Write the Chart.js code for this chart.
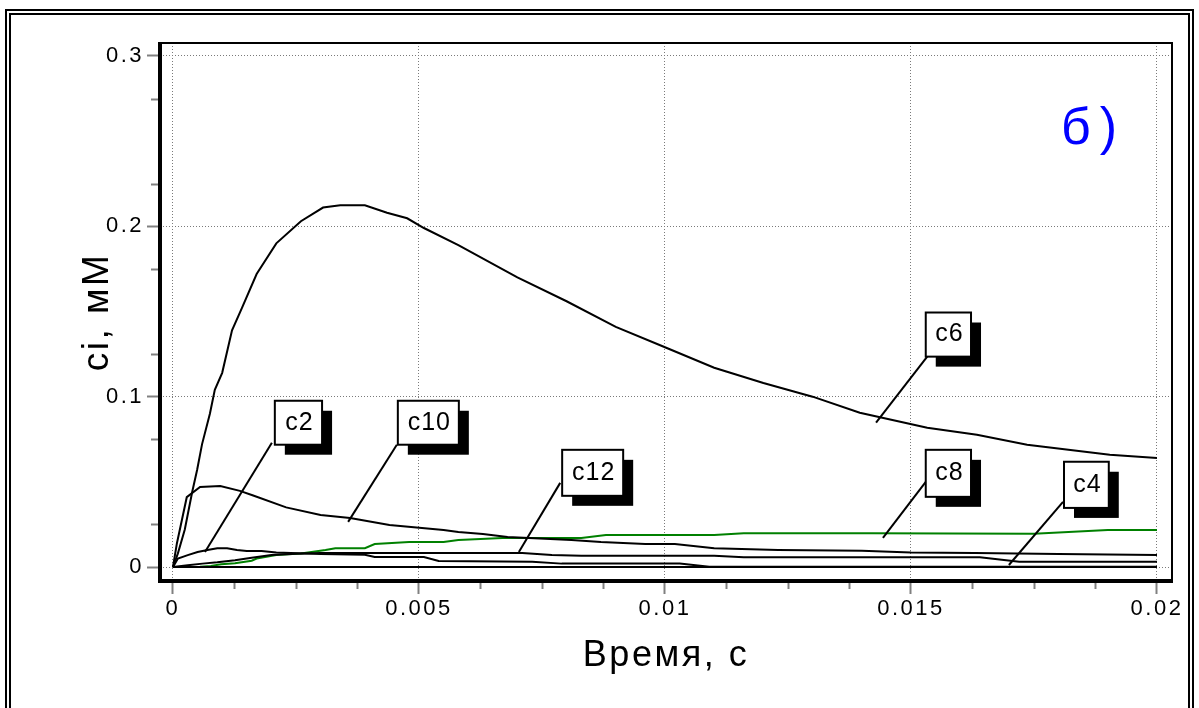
<!DOCTYPE html>
<html lang="ru">
<head>
<meta charset="utf-8">
<title>ci, мМ</title>
<script src="https://cdn.jsdelivr.net/npm/chart.js@4.4.1/dist/chart.umd.min.js"></script>
<style>
html,body{margin:0;padding:0;background:#ffffff;overflow:hidden;}
#box{position:relative;width:1199px;height:708px;}
canvas{display:block;}
</style>
</head>
<body>
<div id="box"><canvas id="chart" width="1199" height="708"></canvas></div>
<script>
// ---------- data (time in s, concentration in mM) ----------
const c6Time = [0,0.0001,0.00024,0.00039,0.00049,0.00059,0.00075,0.00085,0.001,0.0012,0.0014,0.0017,0.0021,0.0026,0.00305,0.0034,0.0039,0.00435,0.00476,0.0051,0.0058,0.007,0.008,0.009,0.01,0.011,0.012,0.013,0.01396,0.01533,0.01634,0.01736,0.01904,0.02];
const c6Conc = [0,0.008,0.022,0.044,0.057,0.072,0.09,0.104,0.114,0.139,0.152,0.172,0.19,0.203,0.211,0.2124,0.2124,0.208,0.2047,0.199,0.189,0.17,0.156,0.141,0.129,0.117,0.108,0.1,0.0906,0.0818,0.0776,0.0718,0.0659,0.064];

const c10Time = [0,0.00008,0.00028,0.00055,0.00096,0.00136,0.00163,0.0023,0.003,0.0036,0.0044,0.0055,0.0058,0.0063,0.0068,0.0081,0.0087,0.0096,0.0102,0.011,0.0123,0.014,0.015,0.0163,0.018,0.02];
const c10Conc = [0,0.014,0.041,0.047,0.0476,0.0447,0.042,0.035,0.0306,0.0288,0.0247,0.0218,0.0206,0.0194,0.0176,0.0159,0.0147,0.0135,0.0135,0.011,0.0100,0.0096,0.0086,0.0082,0.0076,0.007];

const c8Time = [0,0.0003,0.00055,0.00077,0.00098,0.00126,0.0016,0.0017,0.0021,0.0026,0.0031,0.0033,0.0039,0.0041,0.0048,0.0055,0.0058,0.0067,0.0083,0.0088,0.011,0.0116,0.0142,0.0175,0.019,0.02];
const c8Conc = [0,0,0.0002,0.0006,0.0016,0.0022,0.0037,0.005,0.007,0.008,0.010,0.011,0.011,0.0135,0.0147,0.0147,0.0159,0.017,0.017,0.0188,0.0188,0.0198,0.0198,0.0196,0.0218,0.0218];

const c2Time = [0,0.0001,0.0003,0.0005,0.0007,0.0009,0.0011,0.0013,0.0015,0.0018,0.0021,0.003,0.0039,0.0041,0.0051,0.0054,0.0073,0.0079,0.0103,0.0109,0.02];
const c2Conc = [0,0.005,0.007,0.0088,0.010,0.011,0.011,0.010,0.0094,0.0094,0.0085,0.0077,0.0072,0.0059,0.0059,0.0035,0.0031,0.002,0.002,0.0002,0.0002];

const c12Time = [0,0.0003,0.0006,0.0009,0.00126,0.0016,0.002,0.0025,0.003,0.0071,0.0077,0.0083,0.011,0.0116,0.0164,0.0172,0.02];
const c12Conc = [0,0.001,0.002,0.0028,0.004,0.0055,0.007,0.0078,0.0082,0.0082,0.007,0.0066,0.0066,0.0057,0.0057,0.0031,0.0031];

const c4Time = [0,0.005,0.01,0.015,0.02];
const c4Conc = [0,0,0,0,0];

const xTickValues = [0,0.005,0.01,0.015,0.02];
const xTickLabels = ['0','0.005','0.01','0.015','0.02'];
const yTickValues = [0,0.1,0.2,0.3];
const yTickLabels = ['0','0.1','0.2','0.3'];
const xTitle = 'Время, с';
const yTitle = 'ci, мМ';
const panelLabel = 'б)';

// ---------- presentation ----------
const FONT = '"Liberation Sans", Arial, Helvetica, sans-serif';
const pts = (ts, vs) => ts.map((t, i) => ({x: t, y: vs[i]}));
const lineDs = (label, ts, vs, color) => ({
  label, data: pts(ts, vs), borderColor: color, backgroundColor: color,
  borderWidth: 2, pointRadius: 0, fill: false, tension: 0
});

const annotations = [
  {text:'c2',  box:[0.00207,0.0976,0.00303,0.0718], from:[0.00201,0.0729], to:[0.00065,0.0088]},
  {text:'c10', box:[0.00457,0.0976,0.00581,0.0718], from:[0.00455,0.0718], to:[0.00356,0.0265]},
  {text:'c12', box:[0.00791,0.0688,0.00915,0.0418], from:[0.00787,0.0494], to:[0.00703,0.0088]},
  {text:'c6',  box:[0.0153,0.1494,0.01622,0.1235],  from:[0.01533,0.1235], to:[0.01429,0.0847]},
  {text:'c8',  box:[0.0153,0.0688,0.01622,0.0412],  from:[0.0153,0.0500],  to:[0.01443,0.0171]},
  {text:'c4',  box:[0.01811,0.0618,0.01902,0.0347], from:[0.01809,0.0382], to:[0.01699,0.0012]}
];
const panelPos = [0.01805, 0.2485];

const decor = {
  id: 'decor',
  beforeDraw(chart) {
    const ctx = chart.ctx;
    ctx.save();
    ctx.fillStyle = '#ffffff';
    ctx.fillRect(0, 0, chart.width, chart.height);
    ctx.strokeStyle = '#000000';
    ctx.lineWidth = 2;
    ctx.strokeRect(6, 10, 1187, 730);
    ctx.strokeRect(10, 14, 1179, 730);
    ctx.restore();
    ctx.letterSpacing = '2.5px';
  },
  afterDatasetsDraw(chart) {
    const ctx = chart.ctx;
    const a = chart.chartArea;
    const xs = chart.scales.x, ys = chart.scales.y;
    const X = v => xs.getPixelForValue(v), Y = v => ys.getPixelForValue(v);
    ctx.save();
    ctx.letterSpacing = '0px';
    // minor ticks
    ctx.strokeStyle = '#808080';
    ctx.lineWidth = 2;
    for (let k = 1; k <= 16; k++) {
      if (k % 4 === 0) continue;
      const px = Math.round(X(k * 0.00125)) + 0.5;
      ctx.beginPath(); ctx.moveTo(px, a.bottom); ctx.lineTo(px, a.bottom + 8); ctx.stroke();
    }
    for (let k = 1; k <= 12; k += 2) {
      const py = Math.round(Y(k * 0.025)) + 0.5;
      ctx.beginPath(); ctx.moveTo(a.left - 9, py); ctx.lineTo(a.left, py); ctx.stroke();
    }
    // plot frame
    ctx.strokeStyle = '#000000';
    ctx.lineWidth = 2;
    ctx.strokeRect(a.left, a.top, a.right - a.left, a.bottom - a.top);
    ctx.lineWidth = 4;
    ctx.beginPath(); ctx.moveTo(a.left, a.top - 1); ctx.lineTo(a.left, a.bottom + 2); ctx.stroke();
    ctx.beginPath(); ctx.moveTo(a.left - 2, a.bottom); ctx.lineTo(a.right + 1, a.bottom); ctx.stroke();
    // callouts
    ctx.lineWidth = 2;
    annotations.forEach(an => {
      ctx.strokeStyle = '#000';
      ctx.beginPath();
      ctx.moveTo(X(an.from[0]), Y(an.from[1]));
      ctx.lineTo(X(an.to[0]), Y(an.to[1]));
      ctx.stroke();
    });
    annotations.forEach(an => {
      const x0 = X(an.box[0]), y0 = Y(an.box[1]), x1 = X(an.box[2]), y1 = Y(an.box[3]);
      ctx.fillStyle = '#000';
      ctx.fillRect(x0 + 10, y0 + 10, x1 - x0, y1 - y0);
      ctx.fillStyle = '#fff';
      ctx.fillRect(x0, y0, x1 - x0, y1 - y0);
      ctx.strokeStyle = '#000';
      ctx.lineWidth = 2;
      ctx.strokeRect(x0, y0, x1 - x0, y1 - y0);
      ctx.fillStyle = '#000';
      ctx.font = '25px ' + FONT;
      ctx.letterSpacing = '1px';
      ctx.textAlign = 'center';
      ctx.textBaseline = 'middle';
      ctx.fillText(an.text, (x0 + x1) / 2 + 1, (y0 + y1) / 2);
    });
    // panel label
    ctx.fillStyle = '#0000ff';
    ctx.font = '52px ' + FONT;
    ctx.letterSpacing = '9px';
    ctx.textAlign = 'left';
    ctx.textBaseline = 'alphabetic';
    ctx.fillText(panelLabel, X(panelPos[0]), Y(panelPos[1]));
    ctx.restore();
    ctx.letterSpacing = '2.5px';
  }
};

const chart = new Chart(document.getElementById('chart'), {
  type: 'line',
  data: {
    datasets: [
      lineDs('c4', c4Time, c4Conc, '#000000'),
      lineDs('c2', c2Time, c2Conc, '#000000'),
      lineDs('c12', c12Time, c12Conc, '#000000'),
      lineDs('c10', c10Time, c10Conc, '#000000'),
      lineDs('c6', c6Time, c6Conc, '#000000'),
      lineDs('c8', c8Time, c8Conc, '#008000')
    ]
  },
  options: {
    responsive: false,
    animation: false,
    devicePixelRatio: 1,
    layout: {padding: {top: 43, right: 27, left: 0, bottom: 0}},
    plugins: {legend: {display: false}, tooltip: {enabled: false}},
    scales: {
      x: {
        type: 'linear',
        min: -0.000264, max: 0.020305,
        afterBuildTicks: ax => { ax.ticks = xTickValues.map(v => ({value: v})); },
        afterFit: sc => { sc.height = 127; },
        ticks: {
          autoSkip: false, maxRotation: 0, padding: 2, color: '#000',
          font: {family: FONT, size: 22},
          callback: (v, i) => xTickLabels[i]
        },
        grid: {color: '#7a7a7a', lineWidth: 1, drawTicks: true, tickLength: 13, tickWidth: 2, tickColor: '#808080'},
        border: {display: false, dash: [1, 2]},
        title: {display: true, text: xTitle, color: '#000', font: {family: FONT, size: 36}, padding: {top: 0, bottom: 30}}
      },
      y: {
        type: 'linear',
        min: -0.0082, max: 0.3076,
        afterBuildTicks: ax => { ax.ticks = yTickValues.map(v => ({value: v})); },
        afterFit: sc => { sc.width = 160; },
        ticks: {
          autoSkip: false, padding: 3, color: '#000',
          font: {family: FONT, size: 22},
          callback: (v, i) => yTickLabels[i]
        },
        grid: {color: '#7a7a7a', lineWidth: 1, drawTicks: true, tickLength: 13, tickWidth: 2, tickColor: '#808080'},
        border: {display: false, dash: [1, 2]},
        title: {display: true, text: yTitle, color: '#000', font: {family: FONT, size: 37}, padding: {top: 76, bottom: 0}}
      }
    }
  },
  plugins: [decor]
});
</script>
</body>
</html>
